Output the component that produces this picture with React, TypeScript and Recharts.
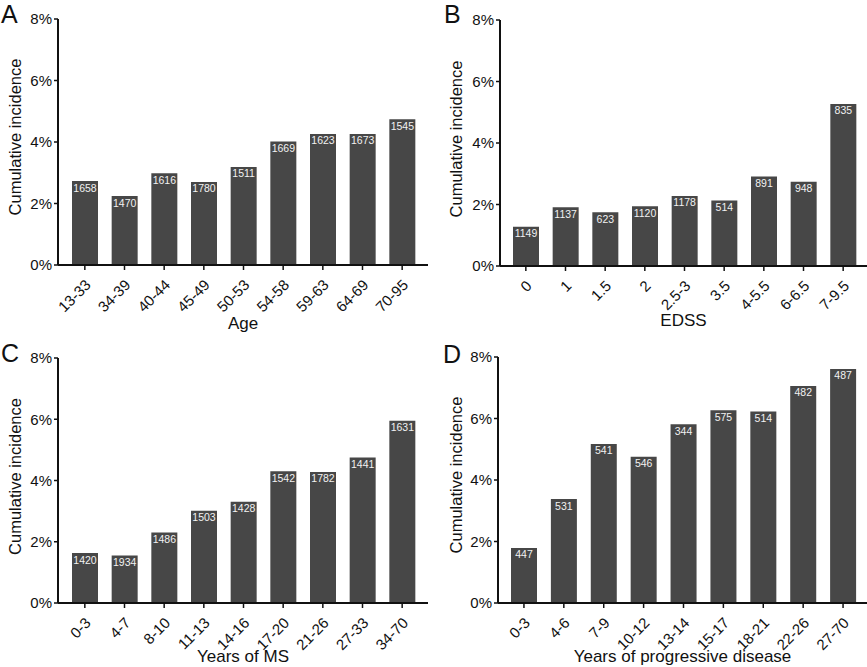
import { BarChart, Bar, XAxis, YAxis, LabelList, Label } from "recharts";

const FONT = '"Liberation Sans", Arial, Helvetica, sans-serif';
const BAR_COLOR = "#474747";
const Y_TICKS = [0, 2, 4, 6, 8];

// Panel A - age
const AGE_GROUPS = ["13-33", "34-39", "40-44", "45-49", "50-53", "54-58", "59-63", "64-69", "70-95"];
const AGE_INCIDENCE = [2.73, 2.24, 2.98, 2.7, 3.19, 4.02, 4.26, 4.26, 4.74];
const AGE_N = [1658, 1470, 1616, 1780, 1511, 1669, 1623, 1673, 1545];

// Panel B - EDSS
const EDSS_GROUPS = ["0", "1", "1.5", "2", "2.5-3", "3.5", "4-5.5", "6-6.5", "7-9.5"];
const EDSS_INCIDENCE = [1.28, 1.91, 1.75, 1.94, 2.28, 2.13, 2.91, 2.74, 5.27];
const EDSS_N = [1149, 1137, 623, 1120, 1178, 514, 891, 948, 835];

// Panel C - years of MS
const MS_GROUPS = ["0-3", "4-7", "8-10", "11-13", "14-16", "17-20", "21-26", "27-33", "34-70"];
const MS_INCIDENCE = [1.63, 1.55, 2.3, 3.01, 3.31, 4.3, 4.28, 4.75, 5.95];
const MS_N = [1420, 1934, 1486, 1503, 1428, 1542, 1782, 1441, 1631];

// Panel D - years of progressive disease
const PROG_GROUPS = ["0-3", "4-6", "7-9", "10-12", "13-14", "15-17", "18-21", "22-26", "27-70"];
const PROG_INCIDENCE = [1.79, 3.38, 5.17, 4.76, 5.81, 6.27, 6.23, 7.06, 7.61];
const PROG_N = [447, 531, 541, 546, 344, 575, 514, 482, 487];

const toRows = (groups: string[], vals: number[], ns: number[]) =>
  groups.map((g, i) => ({ group: g, value: vals[i], n: ns[i] }));

function RotatedTick(props: any) {
  const { x, y, payload } = props;
  const ax = x + 3;
  const ay = y + 10;
  return (
    <text
      x={ax}
      y={ay}
      transform={`rotate(-45 ${ax} ${ay})`}
      textAnchor="end"
      dominantBaseline="central"
      fontSize={15}
      fontFamily={FONT}
      fill="#111"
    >
      {payload.value}
    </text>
  );
}

interface PanelProps {
  letter: string;
  left: number;
  top: number;
  width: number;
  height: number;
  marginTop: number;
  marginRight: number;
  marginBottom: number;
  yAxisWidth: number;
  xAxisHeight: number;
  xLabel: string;
  xLabelY: number;
  yLabelX: number;
  yLabelShift: number;
  letterX: number;
  letterY: number;
  padLeft: number;
  padRight: number;
  rows: { group: string; value: number; n: number }[];
}

function Panel(p: PanelProps) {
  return (
    <div style={{ position: "absolute", left: p.left, top: p.top, width: p.width, height: p.height }}>
      <div
        style={{
          position: "absolute",
          left: p.letterX,
          top: p.letterY,
          fontSize: 25,
          fontFamily: FONT,
          color: "#111",
          lineHeight: "25px",
        }}
      >
        {p.letter}
      </div>
      <BarChart
        width={p.width}
        height={p.height}
        data={p.rows}
        margin={{ top: p.marginTop, right: p.marginRight, bottom: p.marginBottom, left: 0 }}
      >
        <XAxis
          dataKey="group"
          height={p.xAxisHeight}
          interval={0}
          tick={<RotatedTick />}
          tickLine={{ stroke: "#111", strokeWidth: 1.5 }}
          tickSize={5}
          axisLine={{ stroke: "#111", strokeWidth: 2 }}
          padding={{ left: p.padLeft, right: p.padRight }}
        >
          <Label
            content={(lp: any) => {
              const vb = lp.viewBox;
              return (
                <text
                  x={vb.x + vb.width / 2}
                  y={vb.y + p.xLabelY}
                  textAnchor="middle"
                  dominantBaseline="central"
                  fontSize={17}
                  fontFamily={FONT}
                  fill="#111"
                >
                  {p.xLabel}
                </text>
              );
            }}
          />
        </XAxis>
        <YAxis
          width={p.yAxisWidth}
          domain={[0, 8]}
          ticks={Y_TICKS}
          tickFormatter={(v: number) => `${v}%`}
          tick={{ fontSize: 15, fontFamily: FONT, fill: "#111" }}
          tickLine={{ stroke: "#111", strokeWidth: 1.5 }}
          tickSize={4}
          axisLine={{ stroke: "#111", strokeWidth: 2 }}
        >
          <Label
            content={(lp: any) => {
              const vb = lp.viewBox;
              const cx = vb.x + vb.width - p.yLabelX;
              const cy = vb.y + vb.height / 2 + p.yLabelShift;
              return (
                <text
                  x={cx}
                  y={cy}
                  transform={`rotate(-90 ${cx} ${cy})`}
                  textAnchor="middle"
                  dominantBaseline="central"
                  fontSize={16.5}
                  fontFamily={FONT}
                  fill="#111"
                >
                  Cumulative incidence
                </text>
              );
            }}
          />
        </YAxis>
        <Bar dataKey="value" fill={BAR_COLOR} barSize={26} isAnimationActive={false}>
          <LabelList
            dataKey="n"
            position="insideTop"
            offset={3}
            fill="#f2f2f2"
            fontSize={10.5}
            fontFamily={FONT}
          />
        </Bar>
      </BarChart>
    </div>
  );
}

export default function App() {
  return (
    <div
      style={{
        position: "absolute",
        left: 0,
        top: 0,
        width: 867,
        height: 667,
        background: "#fff",
        overflow: "hidden",
      }}
    >
      <Panel
        letter="A"
        left={0}
        top={0}
        width={433}
        height={345}
        marginTop={19}
        marginRight={5}
        marginBottom={15}
        yAxisWidth={58}
        xAxisHeight={65}
        xLabel="Age"
        xLabelY={58}
        yLabelX={43}
        yLabelShift={-5}
        letterX={1}
        letterY={2}
        padLeft={7}
        padRight={6}
        rows={toRows(AGE_GROUPS, AGE_INCIDENCE, AGE_N)}
      />
      <Panel
        letter="B"
        left={434}
        top={0}
        width={433}
        height={345}
        marginTop={20}
        marginRight={0}
        marginBottom={15}
        yAxisWidth={66}
        xAxisHeight={64}
        xLabel="EDSS"
        xLabelY={54}
        yLabelX={44}
        yLabelShift={-4}
        letterX={10}
        letterY={2}
        padLeft={6}
        padRight={4}
        rows={toRows(EDSS_GROUPS, EDSS_INCIDENCE, EDSS_N)}
      />
      <Panel
        letter="C"
        left={0}
        top={333}
        width={433}
        height={344}
        marginTop={25}
        marginRight={5}
        marginBottom={10}
        yAxisWidth={58}
        xAxisHeight={64}
        xLabel="Years of MS"
        xLabelY={53}
        yLabelX={43}
        yLabelShift={-4}
        letterX={1}
        letterY={8}
        padLeft={7}
        padRight={6}
        rows={toRows(MS_GROUPS, MS_INCIDENCE, MS_N)}
      />
      <Panel
        letter="D"
        left={434}
        top={333}
        width={433}
        height={344}
        marginTop={24}
        marginRight={0}
        marginBottom={10}
        yAxisWidth={64}
        xAxisHeight={64}
        xLabel="Years of progressive disease"
        xLabelY={53}
        yLabelX={42}
        yLabelShift={-5}
        letterX={9}
        letterY={9}
        padLeft={6}
        padRight={4}
        rows={toRows(PROG_GROUPS, PROG_INCIDENCE, PROG_N)}
      />
    </div>
  );
}
